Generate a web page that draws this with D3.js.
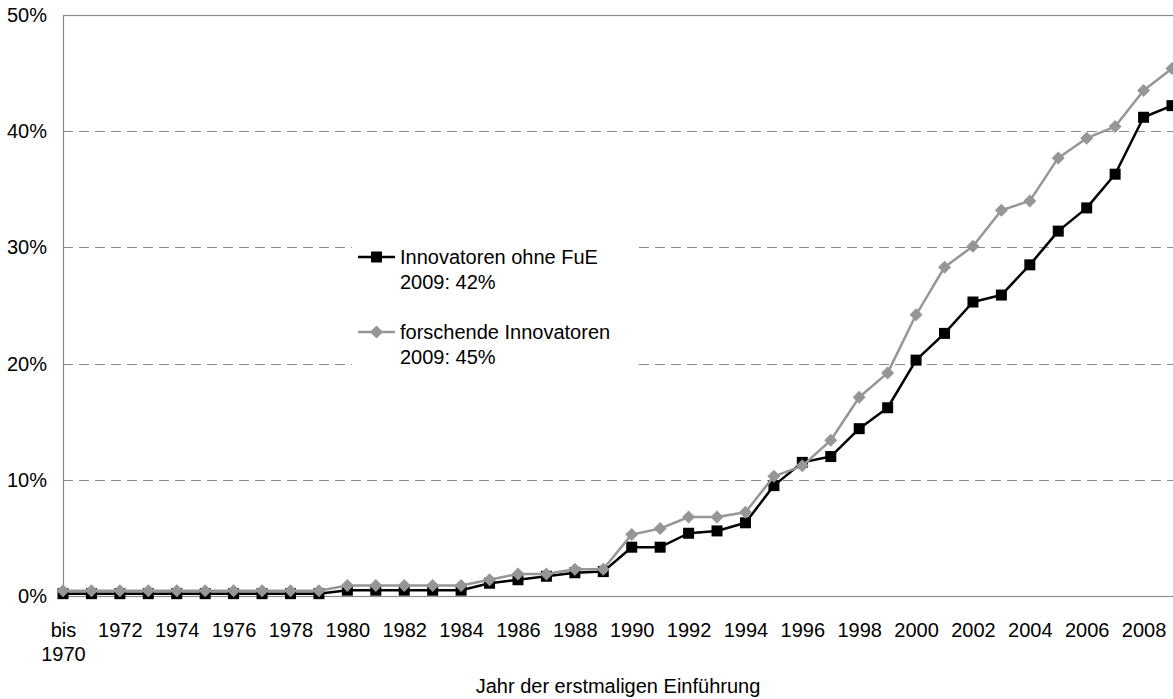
<!DOCTYPE html>
<html>
<head>
<meta charset="utf-8">
<script src="https://cdn.jsdelivr.net/npm/d3@7"></script>
<style>
  html, body { margin: 0; padding: 0; background: #fff; }
  svg { display: block; font-family: "Liberation Sans", Arial, sans-serif; }
</style>
</head>
<body>
<svg id="chart" width="1173" height="699"></svg>
<script>
// ---- data ----
const categories = ["bis 1970","1971","1972","1973","1974","1975","1976","1977","1978","1979",
  "1980","1981","1982","1983","1984","1985","1986","1987","1988","1989",
  "1990","1991","1992","1993","1994","1995","1996","1997","1998","1999",
  "2000","2001","2002","2003","2004","2005","2006","2007","2008","2009"];
const tickLabels = ["bis 1970","1972","1974","1976","1978","1980","1982","1984","1986","1988",
  "1990","1992","1994","1996","1998","2000","2002","2004","2006","2008"];
const ohneFuE = [0.2,0.2,0.2,0.2,0.2,0.2,0.2,0.2,0.2,0.2,
  0.5,0.5,0.5,0.5,0.5,1.1,1.4,1.7,2.0,2.1,
  4.2,4.2,5.4,5.6,6.3,9.5,11.5,12.0,14.4,16.2,
  20.3,22.6,25.3,25.9,28.5,31.4,33.4,36.3,41.2,42.2];
const forschende = [0.45,0.45,0.45,0.45,0.45,0.45,0.45,0.45,0.45,0.45,
  0.9,0.9,0.9,0.9,0.9,1.4,1.9,1.9,2.3,2.3,
  5.3,5.8,6.8,6.8,7.2,10.3,11.2,13.4,17.1,19.2,
  24.2,28.3,30.1,33.2,34.0,37.7,39.4,40.4,43.5,45.4];
const yTicks = [0,10,20,30,40,50];
const legendItems = [
  {name: "Innovatoren ohne FuE", note: "2009: 42%"},
  {name: "forschende Innovatoren", note: "2009: 45%"}
];
const xTitle = "Jahr der erstmaligen Einführung";

// ---- layout ----
const svg = d3.select("#chart");
const mLeft = 63, mRight = 1172, mTop = 15, mBottom = 596;
const FS = 20;

const x = d3.scalePoint().domain(categories).range([mLeft, mRight]).padding(0);
const y = d3.scaleLinear().domain([0, 50]).range([mBottom, mTop]);

// gridlines
svg.append("g")
  .selectAll("line")
  .data(yTicks.filter(d => d > 0 && d < 50))
  .join("line")
  .attr("x1", mLeft).attr("x2", 1173)
  .attr("y1", d => Math.round(y(d)) + 0.5).attr("y2", d => Math.round(y(d)) + 0.5)
  .attr("stroke", "#8c8c8c").attr("stroke-width", 1)
  .attr("stroke-dasharray", "10,6");

// frame
svg.append("rect")
  .attr("x", mLeft + 0.5).attr("y", mTop + 0.5)
  .attr("width", 1180 - mLeft).attr("height", mBottom - mTop)
  .attr("fill", "none").attr("stroke", "#8c8c8c").attr("stroke-width", 1.2);

// y axis
const yAxis = svg.append("g")
  .attr("transform", `translate(${mLeft},0)`)
  .call(d3.axisLeft(y).tickValues(yTicks).tickSize(0).tickPadding(16).tickFormat(d => d + "%"));
yAxis.select(".domain").remove();
yAxis.selectAll("text")
  .attr("font-size", FS).attr("fill", "#000")
  .attr("font-family", "'Liberation Sans', Arial, sans-serif");

// x axis
const xAxis = svg.append("g")
  .attr("transform", `translate(0,${mBottom})`)
  .call(d3.axisBottom(x).tickValues(tickLabels).tickSize(0).tickPadding(27));
xAxis.select(".domain").remove();
xAxis.selectAll("text")
  .attr("font-size", FS).attr("fill", "#000")
  .attr("font-family", "'Liberation Sans', Arial, sans-serif")
  .each(function(d) {
    const parts = d.split(" ");
    if (parts.length > 1) {
      const t = d3.select(this);
      t.text(null);
      parts.forEach((p, i) => {
        t.append("tspan").attr("x", 0).attr("dy", i === 0 ? "0.71em" : "1.2em").text(p);
      });
      t.attr("dy", null);
    }
  });

// x title
svg.append("text")
  .attr("x", 618).attr("y", 693)
  .attr("text-anchor", "middle")
  .attr("font-size", FS).attr("fill", "#000")
  .text(xTitle);

// legend background
svg.append("rect")
  .attr("x", 352).attr("y", 232).attr("width", 286).attr("height", 145)
  .attr("fill", "#fff");

const line = d3.line().x((d, i) => x(categories[i])).y(d => y(d));

// series: black (ohne FuE)
svg.append("path").datum(ohneFuE)
  .attr("d", line).attr("fill", "none")
  .attr("stroke", "#000").attr("stroke-width", 2.5).attr("stroke-linejoin", "round");
svg.append("g").selectAll("rect")
  .data(ohneFuE).join("rect")
  .attr("x", (d, i) => x(categories[i]) - 5.5)
  .attr("y", d => y(d) - 5.5)
  .attr("width", 11).attr("height", 11)
  .attr("fill", "#000");

// series: grey (forschende)
const grey = "#969696";
svg.append("path").datum(forschende)
  .attr("d", line).attr("fill", "none")
  .attr("stroke", grey).attr("stroke-width", 2.5).attr("stroke-linejoin", "round");
const diamond = "M0,-6.5L6.5,0L0,6.5L-6.5,0Z";
svg.append("g").selectAll("path")
  .data(forschende).join("path")
  .attr("d", diamond)
  .attr("transform", (d, i) => `translate(${x(categories[i])},${y(d)})`)
  .attr("fill", grey);

// legend
const lg = svg.append("g");
const legendY = [257, 332];
legendItems.forEach((item, i) => {
  const ly = legendY[i];
  const col = i === 0 ? "#000" : grey;
  lg.append("line").attr("x1", 358).attr("x2", 395).attr("y1", ly).attr("y2", ly)
    .attr("stroke", col).attr("stroke-width", 2.5);
  if (i === 0) {
    lg.append("rect").attr("x", 376.5 - 5.5).attr("y", ly - 5.5).attr("width", 11).attr("height", 11).attr("fill", col);
  } else {
    lg.append("path").attr("d", diamond).attr("transform", `translate(376.5,${ly})`).attr("fill", col);
  }
  lg.append("text").attr("x", 400).attr("y", ly + 7)
    .attr("font-size", FS).attr("fill", "#000").text(item.name);
  lg.append("text").attr("x", 400).attr("y", ly + 32)
    .attr("font-size", FS).attr("fill", "#000").text(item.note);
});
</script>
</body>
</html>
